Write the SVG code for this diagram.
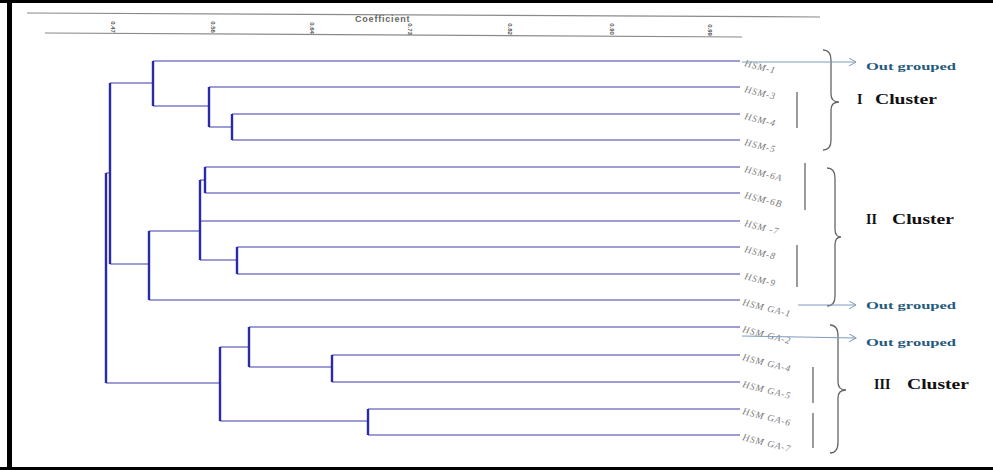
<svg xmlns="http://www.w3.org/2000/svg" width="993" height="470" viewBox="0 0 993 470">
<style>
.tree{fill:none;stroke:#3a3aae;stroke-width:1.2}
.vt{fill:none;stroke:#2a2aa8;stroke-width:2.4}
.axis{stroke:#8a8a8a;stroke-width:1.2;fill:none}
.tick{font-family:"Liberation Sans",Arial,sans-serif;font-size:6px;font-weight:bold;fill:#555}
.coef{font-family:"Liberation Sans",Arial,sans-serif;font-size:9px;font-weight:bold;fill:#666;letter-spacing:0.8px}
.leaf{font-family:"Liberation Serif",serif;font-style:italic;font-size:9.5px;fill:#777;letter-spacing:0.9px}
.brace{fill:none;stroke:#666;stroke-width:1.3}
.bar{stroke:#666;stroke-width:1.3}
.arr{stroke:#7f9cbc;stroke-width:1;fill:none}
.og{font-family:"Liberation Serif",serif;font-weight:bold;font-size:11px;fill:#1f5a7e}
.cl{font-family:"Liberation Serif",serif;font-weight:bold;font-size:14px;fill:#111}
</style>
<defs>
<marker id="chev" markerWidth="10" markerHeight="10" refX="8" refY="4" orient="auto" markerUnits="userSpaceOnUse">
<path d="M1,0 L8,4 L1,8" fill="none" stroke="#7f9cbc" stroke-width="1"/>
</marker>
</defs>
<rect x="0" y="0" width="993" height="470" fill="#fff"/>
<!-- frame -->
<rect x="0" y="0" width="993" height="3" fill="#000"/>
<rect x="7" y="0" width="5" height="470" fill="#000"/>
<rect x="0" y="467" width="993" height="3" fill="#000"/>
<!-- axis -->
<g id="axis">
<line class="axis" x1="27" y1="13" x2="820" y2="17"/>
<line class="axis" x1="45" y1="33" x2="742" y2="37"/>
<text class="coef" x="355" y="22">Coefficient</text>
<text class="tick" transform="translate(113,27) rotate(90)" text-anchor="middle" dominant-baseline="central">0.47</text>
<text class="tick" transform="translate(213,27) rotate(90)" text-anchor="middle" dominant-baseline="central">0.56</text>
<text class="tick" transform="translate(312,28) rotate(90)" text-anchor="middle" dominant-baseline="central">0.64</text>
<text class="tick" transform="translate(410,29) rotate(90)" text-anchor="middle" dominant-baseline="central">0.73</text>
<text class="tick" transform="translate(510,29) rotate(90)" text-anchor="middle" dominant-baseline="central">0.82</text>
<text class="tick" transform="translate(612,29) rotate(90)" text-anchor="middle" dominant-baseline="central">0.90</text>
<text class="tick" transform="translate(710,30) rotate(90)" text-anchor="middle" dominant-baseline="central">0.99</text>
</g>
<!-- connectors: dendrogram -->
<g id="connectors">
<path class="tree" d="M153,61H740 M209,87H740 M232,114H740 M232,140H740 M205,167H740 M205,193H740 M200,221H740 M237,247H740 M237,274H740 M149,300H740 M249,327H740 M332,355H740 M332,382H740 M368,409H740 M368,435H740"/>
<path class="tree" d="M209,127H232 M153,106H209 M110,83H153 M200,180H205 M200,260H237 M149,231H200 M110,264H149 M106,173H110 M249,367H332 M220,347H249 M220,421H368 M106,383H220"/>
<path class="vt" d="M232,114V140 M209,87V127 M153,61V106 M205,167V193 M237,247V274 M200,180V260 M149,231V300 M110,83V264 M332,355V382 M249,327V367 M368,409V435 M220,347V421 M106,173V383"/>
</g>
<!-- leaf labels -->
<g id="leaf-HSM-1"><text class="leaf" transform="translate(744,66) rotate(14)">HSM-1</text></g>
<g id="leaf-HSM-3"><text class="leaf" transform="translate(744,92) rotate(14)">HSM-3</text></g>
<g id="leaf-HSM-4"><text class="leaf" transform="translate(744,119) rotate(14)">HSM-4</text></g>
<g id="leaf-HSM-5"><text class="leaf" transform="translate(744,145) rotate(14)">HSM-5</text></g>
<g id="leaf-HSM-6A"><text class="leaf" transform="translate(744,172) rotate(14)">HSM-6A</text></g>
<g id="leaf-HSM-6B"><text class="leaf" transform="translate(744,198) rotate(14)">HSM-6B</text></g>
<g id="leaf-HSM-7"><text class="leaf" transform="translate(744,226) rotate(14)">HSM -7</text></g>
<g id="leaf-HSM-8"><text class="leaf" transform="translate(744,252) rotate(14)">HSM-8</text></g>
<g id="leaf-HSM-9"><text class="leaf" transform="translate(744,279) rotate(14)">HSM-9</text></g>
<g id="leaf-HSM-GA-1"><text class="leaf" transform="translate(742,305) rotate(14)">HSM GA-1</text></g>
<g id="leaf-HSM-GA-2"><text class="leaf" transform="translate(742,332) rotate(14)">HSM GA-2</text></g>
<g id="leaf-HSM-GA-4"><text class="leaf" transform="translate(742,360) rotate(14)">HSM GA-4</text></g>
<g id="leaf-HSM-GA-5"><text class="leaf" transform="translate(742,387) rotate(14)">HSM GA-5</text></g>
<g id="leaf-HSM-GA-6"><text class="leaf" transform="translate(742,414) rotate(14)">HSM GA-6</text></g>
<g id="leaf-HSM-GA-7"><text class="leaf" transform="translate(742,440) rotate(14)">HSM GA-7</text></g>
<!-- cluster I -->
<g id="cluster-I">
<line class="bar" x1="797" y1="92" x2="797" y2="128"/>
<path class="brace" d="M823,50 Q831,50 831,60 L831,94 Q831,102 839,102 Q831,102 831,110 L831,140 Q831,150 823,150"/>
<text class="cl" x="857" y="104">I</text>
<text class="cl" x="875" y="104" textLength="62" lengthAdjust="spacingAndGlyphs">Cluster</text>
</g>
<g id="out-1">
<line class="arr" x1="742" y1="62" x2="856" y2="62" marker-end="url(#chev)"/>
<text class="og" x="866" y="70" textLength="90" lengthAdjust="spacingAndGlyphs">Out grouped</text>
</g>
<!-- cluster II -->
<g id="cluster-II">
<line class="bar" x1="805" y1="163" x2="805" y2="210"/>
<line class="bar" x1="797" y1="245" x2="797" y2="287"/>
<path class="brace" d="M827,168 Q835,168 835,178 L835,229 Q835,237 841,237 Q835,237 835,245 L835,296 Q835,306 827,306"/>
<text class="cl" x="866" y="224">II</text>
<text class="cl" x="892" y="224" textLength="62" lengthAdjust="spacingAndGlyphs">Cluster</text>
</g>
<g id="out-2">
<line class="arr" x1="798" y1="305" x2="856" y2="305" marker-end="url(#chev)"/>
<text class="og" x="866" y="309" textLength="90" lengthAdjust="spacingAndGlyphs">Out grouped</text>
</g>
<!-- cluster III -->
<g id="cluster-III">
<line class="bar" x1="813" y1="367" x2="813" y2="403"/>
<line class="bar" x1="813" y1="413" x2="813" y2="448"/>
<path class="brace" d="M830,325 Q838,325 838,336 L838,382 Q838,390 846,390 Q838,390 838,398 L838,442 Q838,453 830,453"/>
<text class="cl" x="874" y="389">III</text>
<text class="cl" x="907" y="389" textLength="62" lengthAdjust="spacingAndGlyphs">Cluster</text>
</g>
<g id="out-3">
<line class="arr" x1="742" y1="336" x2="856" y2="338" marker-end="url(#chev)"/>
<text class="og" x="866" y="346" textLength="90" lengthAdjust="spacingAndGlyphs">Out grouped</text>
</g>
</svg>
